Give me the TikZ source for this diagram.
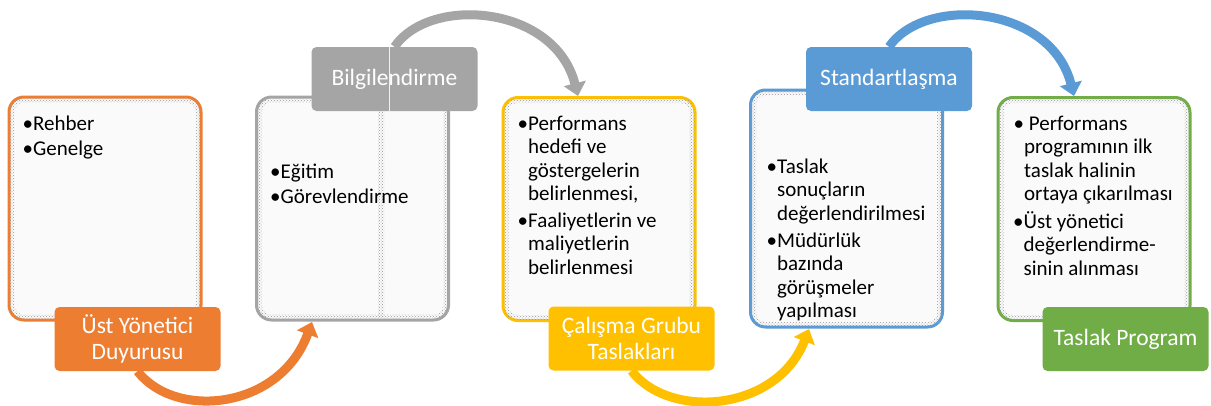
\documentclass[tikz,border=0pt]{standalone}
\usepackage{fontspec}
\setmainfont{Carlito}
\usetikzlibrary{arrows.meta,patterns,calc}
\definecolor{corange}{HTML}{ED7D31}
\definecolor{cgray}{HTML}{A5A5A5}
\definecolor{cyellow}{HTML}{FFC000}
\definecolor{cblue}{HTML}{5B9BD5}
\definecolor{cgreen}{HTML}{70AD47}
\newcommand\mybandfill[1]{%
  \path[pattern=crosshatch dots, pattern color=black!40, even odd rule]
    [rounded corners=13pt] ($(#1.north west)+(2,2)$) rectangle ($(#1.south east)+(-2,-2)$)
    [rounded corners=9pt] ($(#1.north west)+(7,7)$) rectangle ($(#1.south east)+(-7,-7)$);}
\begin{document}
\begin{tikzpicture}[x=1pt,y=-1pt,
  box/.style={draw, line width=3pt, rounded corners=15pt, fill=black!2, inner sep=0pt, minimum width=192pt, minimum height=223pt},
  lbl/.style={rounded corners=5pt, text=white, align=center, inner sep=0pt, minimum width=166pt, minimum height=64pt, font=\fontsize{23.5}{26.5}\selectfont},
  txt/.style={anchor=base west, inner sep=0pt, align=left, font=\fontsize{21}{23.5}\selectfont},
  flow/.style={line width=9pt, -{Triangle[width=22pt,length=13pt]}}]
\useasboundingbox (0,0) rectangle (1211,405);
\fill[white] (0,0) rectangle (1211,405);
% boxes
\node[box, draw=corange] (b1) at (105,208.5) {};
\node[box, draw=cgray] (b2) at (352.5,208.5) {};
\node[box, draw=cyellow] (b3) at (599,209) {};
\node[box, draw=cblue, minimum height=237pt] (b4) at (846.5,208.5) {};
\node[box, draw=cgreen] (b5) at (1094,209) {};
\mybandfill{b1}\mybandfill{b2}\mybandfill{b3}\mybandfill{b4}\mybandfill{b5}
\fill[pattern=crosshatch dots, pattern color=black!40] (378,111) rectangle (384,317);
% texts (anchor = baseline of the last line)
\node[txt] (t1a) at (22.5,130) {•Rehber};
\node[txt] (t1b) at (22.5,155.5) {•Genelge};
\node[txt] (t2a) at (270,178) {•Eğitim};
\node[txt] (t2b) at (270,203) {•Görevlendirme};
\node[txt] (t3a) at (517.5,200.5) {•Performans\\\hphantom{•}hedefi ve\\\hphantom{•}göstergelerin\\\hphantom{•}belirlenmesi,};
\node[txt] (t3b) at (517.5,274) {•Faaliyetlerin ve\\\hphantom{•}maliyetlerin\\\hphantom{•}belirlenmesi};
\node[txt] (t4a) at (766.5,220) {•Taslak\\\hphantom{•}sonuçların\\\hphantom{•}değerlendirilmesi};
\node[txt] (t4b) at (766.5,317.5) {•Müdürlük\\\hphantom{•}bazında\\\hphantom{•}görüşmeler\\\hphantom{•}yapılması};
\node[txt] (t5a) at (1013.5,200.5) {• Performans\\\hphantom{•}programının ilk\\\hphantom{•}taslak halinin\\\hphantom{•}ortaya çıkarılması};
\node[txt] (t5b) at (1013,275) {•Üst yönetici\\\hphantom{•}değerlendirme-\\\hphantom{•}sinin alınması};
% label nodes (placed first for anchors, drawn later on top)
\path node[lbl] (l1) at (137.5,339) {} node[lbl] (l2) at (394.5,79) {}
      node[lbl] (l3) at (631.5,338.5) {} node[lbl] (l4) at (889,79) {}
      node[lbl] (l5) at (1125.5,339) {};
\coordinate (e1) at (312,322);
\coordinate (e2) at (578,96);
\coordinate (e3) at (809,329);
\coordinate (e4) at (1074,96);
% arrows
\draw[flow, corange] (l1.south) .. controls (175,420) and (280,410) .. (e1);
\draw[flow, cgray] (l2.north) .. controls (430,-5) and (555,5) .. (e2);
\draw[flow, cyellow] (l3.south) .. controls (669,420) and (777,412) .. (e3);
\draw[flow, cblue] (l4.north) .. controls (925,-5) and (1051,5) .. (e4);
% labels
\node[lbl, fill=corange] at (l1) {Üst Yönetici\\Duyurusu};
\node[lbl, fill=cgray] at (l2) {Bilgilendirme};
\node[lbl, fill=cyellow] at (l3) {Çalışma Grubu\\Taslakları};
\node[lbl, fill=cblue] at (l4) {Standartlaşma};
\node[lbl, fill=cgreen] at (l5) {Taslak Program};
\draw[white!85!cgray, line width=0.8pt] (389,47) -- (389,111);
\end{tikzpicture}
\end{document}
